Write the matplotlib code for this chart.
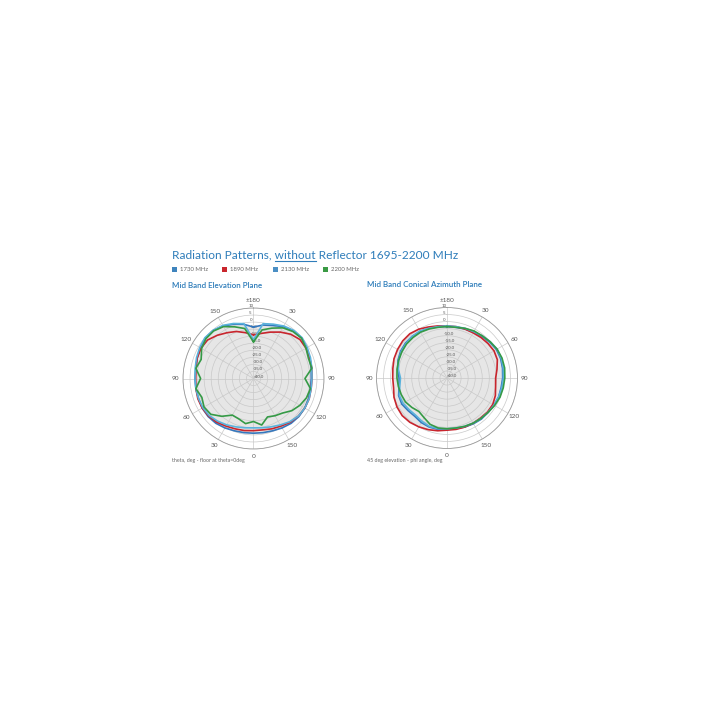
import numpy as np
import matplotlib
matplotlib.use('Agg')
import matplotlib.pyplot as plt
from matplotlib.patches import Rectangle
from matplotlib.lines import Line2D

plt.rcParams['font.family'] = ['Lato', 'DejaVu Sans']

# angles in degrees, clockwise from the top of each polar chart
angles = np.arange(0, 360, 10)

freqs = ['1730 MHz', '1890 MHz', '2130 MHz', '2200 MHz']
line_colors = ['#3577bd', '#c8252d', '#5ab2dc', '#359a46']
legend_colors = ['#3f84bd', '#c9262d', '#4b8fc4', '#3a9a44']

# gain in dB, elevation plane
elev_1730 = [-3.5, -1.5, 0, 2.5, 4, 4.5, 3.5, 2.5, 1.5, 1, 1, 1.5,
             2, 2, 1.5, 0.5, -0.5, -1, -1.2, -1, -0.5, 0.5, 1.5, 2,
             2, 1.5, 1.5, 1.5, 1.5, 2.5, 3.5, 4.5, 4.5, 3, 1, -1]
elev_1890 = [-9, -7.5, -5, -2, 1, 3, 3, 2.5, 2, 1.5, 1.5, 2,
             2, 1.5, 0.5, -1, -2, -3, -3, -2.5, -2, -1, 0.5, 1.5,
             2, 2, 1.5, 1, 1.5, 2.5, 3, 2.5, 0, -2.5, -4.5, -7]
elev_2130 = [-12.5, -0.5, 1, 3, 4.5, 5, 4, 3, 2, 1.5, 1.5, 2,
             2, 1.5, 0, -2, -3.5, -4.5, -5, -4.5, -3.5, -2, -0.5, 1,
             1.5, 1.5, 1.5, 1.5, 2, 3, 4, 5, 4.5, 3.5, 1.5, -0.5]
elev_2200 = [-14, -5, -2, 1.5, 3.5, 4.5, 3, 1.5, 2, -3.5, 1, 0,
             -2, -4.5, -8, -9.5, -11, -6.5, -9.5, -7.5, -9.5, -10, -5, -0.5,
             0.5, -1, 1.5, -2.5, 1.5, -0.5, 2.5, 4, 4, 2.5, -1, -4]

# gain in dB, 45 deg conical azimuth plane
azim_1730 = [-3.5, -3.5, -3, -2.5, -1.5, -0.5, 0.5, 0.5, 0, -0.5, -1, -1,
             -1.5, -2, -2, -2.5, -3, -3.5, -3.5, -3, -3, -3.5, -4.5, -4,
             -3, -3.5, -5.5, -6, -4.5, -3, -2, -1.5, -1.5, -2, -2.5, -3]
azim_1890 = [-3, -3, -3, -3, -2.5, -2, -1.5, -2, -4, -5.5, -5, -3.5,
             -2.5, -2.5, -3, -3, -3, -3, -3, -2, -1, 0, 1, 1.5,
             1, 0, -1.5, -1.5, -1, 0, 0.5, 1, 1, 0, -1.5, -2.5]
azim_2130 = [-3, -3, -2.5, -2, -1, 0, 1, 1, 0.5, 0, -0.5, -1,
             -1.5, -2, -2.5, -3, -3.5, -4, -4, -3.5, -3.5, -4.5, -5.5, -5,
             -4, -4, -6, -7, -5, -3.5, -2.5, -2, -1.5, -1.5, -2.5, -3]
azim_2200 = [-3.5, -3.5, -2.5, -1.5, -1, 0, 1, 1.5, 1.5, 1, 0.5, 0,
             -1, -2, -2.5, -3, -3.5, -4, -4, -4, -5, -7.5, -9, -7.5,
             -6, -5.5, -5, -4.5, -4, -3.5, -3, -2.5, -2.5, -2.5, -3, -3.5]

ring_values = [10, 5, 0, -5, -10, -15, -20, -25, -30, -35, -40]
ring_labels = ['10', '5', '0', '-5.0', '-10.0', '-15.0', '-20.0', '-25.0',
               '-30.0', '-35.0', '-40.0']
angle_ticks = [0, 30, 60, 90, 120, 150, 180, 210, 240, 270, 300, 330]
angle_labels = ['±180', '30', '60', '90', '120', '150',
                '0', '30', '60', '90', '120', '150']

title_color = '#2f7dba'
text_grey = '#666666'

W = H = 720
fig = plt.figure(figsize=(7.2, 7.2), dpi=100)
fig.patch.set_facecolor('white')


def fx(px):
    return px / W


def fy(py):
    return 1 - py / H


def draw_panel(cx, cy, series, subtitle, sub_x, sub_y, caption, cap_y):
    rad = 70.5
    ax = fig.add_axes([fx(cx - rad), fy(cy + rad), 2 * rad / W, 2 * rad / H],
                      projection='polar')
    ax.set_theta_zero_location('N')
    ax.set_theta_direction(-1)
    th = np.deg2rad(np.append(angles, angles[0]))
    for vals in series:
        ax.fill(th, np.append(vals, vals[0]), color='#e6e6e6', lw=0, zorder=1)
    for vals, c in zip(series, line_colors):
        ax.plot(th, np.append(vals, vals[0]), color=c, lw=1.2, zorder=3)
    ax.set_ylim(-40, 10)
    ax.set_yticks(ring_values)
    ax.set_yticklabels(ring_labels, fontsize=3.2, color='#555555')
    ax.set_rlabel_position(-4)
    ax.set_xticks(np.deg2rad(angle_ticks))
    ax.set_xticklabels([])
    for a, lab in zip(angle_ticks, angle_labels):
        ax.text(np.deg2rad(a), 15.2, lab, fontsize=4.6, color='#555555',
                ha='center', va='center', clip_on=False)
    ax.grid(color='#c9c9c9', lw=0.5)
    ax.spines['polar'].set_color('#9a9a9a')
    ax.spines['polar'].set_linewidth(0.6)
    fig.text(fx(sub_x), fy(sub_y), subtitle, fontsize=5.8, color=title_color,
             fontweight='semibold', va='center')
    fig.text(fx(sub_x), fy(cap_y), caption, fontsize=3.8, color=text_grey,
             va='center')
    return ax


draw_panel(253.5, 378.5, [elev_1730, elev_1890, elev_2130, elev_2200],
           'Mid Band Elevation Plane', 172, 286,
           'theta, deg - floor at theta=0deg', 461)
draw_panel(447, 378, [azim_1730, azim_1890, azim_2130, azim_2200],
           'Mid Band Conical Azimuth Plane', 367, 285,
           '45 deg elevation - phi angle, deg', 461)

# title with the word "without" underlined
title_fs = 8.6
title = fig.text(fx(172), fy(255), 'Radiation Patterns, without Reflector 1695-2200 MHz',
                 fontsize=title_fs, color=title_color, va='center')
renderer = fig.canvas.get_renderer()
pre = fig.text(0, 0, 'Radiation Patterns, ', fontsize=title_fs)
word = fig.text(0, 0, 'without', fontsize=title_fs)
w_pre = pre.get_window_extent(renderer).width
w_word = word.get_window_extent(renderer).width
pre.remove()
word.remove()
x0 = 172 + w_pre
fig.add_artist(Line2D([fx(x0), fx(x0 + w_word)], [fy(261), fy(261)],
                      transform=fig.transFigure, color=title_color, lw=0.8))

# legend row
legend_x = [172, 222, 273, 323]
for lx, lab, c in zip(legend_x, freqs, legend_colors):
    fig.add_artist(Rectangle((fx(lx), fy(272)), 5 / W, 5 / H,
                             transform=fig.transFigure, color=c, lw=0))
    fig.text(fx(lx + 8), fy(269.5), lab, fontsize=4.3, color=text_grey,
             va='center')

fig.savefig('out.png', dpi=100, facecolor='white')
